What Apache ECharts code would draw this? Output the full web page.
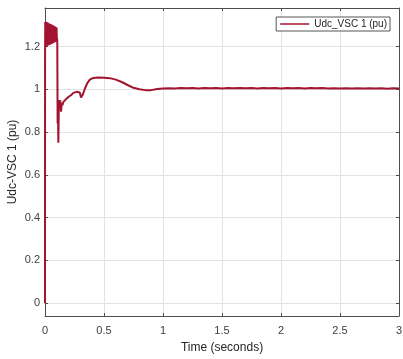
<!DOCTYPE html>
<html>
<head>
<meta charset="utf-8">
<script src="https://cdn.jsdelivr.net/npm/echarts@6/dist/echarts.min.js"></script>
<style>
  html, body { margin: 0; padding: 0; background: #fff; }
  #chart { width: 403px; height: 359px; }
</style>
</head>
<body>
<div id="chart"></div>
<script>
// DC-link voltage of converter VSC 1 during start-up (per unit)
const seriesName = 'Udc_VSC 1 (pu)';

// charging ripple band, 0 - 0.1 s
const bandTime = [
  0, 0.0005,
  0.002, 0.006, 0.010, 0.014, 0.018, 0.022, 0.026, 0.030, 0.034, 0.038,
  0.042, 0.046, 0.050, 0.054, 0.058, 0.062, 0.066, 0.070, 0.074, 0.078,
  0.082, 0.086, 0.090, 0.094, 0.098, 0.100
];
const bandUdc = [
  0, 1.12,
  1.315, 1.200, 1.316, 1.202, 1.313, 1.205, 1.311, 1.206, 1.308, 1.208,
  1.306, 1.210, 1.304, 1.212, 1.302, 1.214, 1.299, 1.216, 1.297, 1.219,
  1.294, 1.221, 1.291, 1.224, 1.289, 1.240
];

// transient after the converter is deblocked, 0.1 - 1 s
const transientTime = [
  0.104, 0.107, 0.110, 0.113, 0.118, 0.124, 0.130, 0.136, 0.142, 0.148,
  0.155, 0.162, 0.170, 0.180, 0.190, 0.200, 0.210, 0.220, 0.230, 0.240,
  0.255, 0.270, 0.283, 0.295, 0.305, 0.312, 0.320, 0.340, 0.360, 0.380,
  0.410, 0.450, 0.500, 0.550, 0.600, 0.650, 0.700, 0.750, 0.800, 0.850,
  0.900, 0.950
];
const transientUdc = [
  1.230, 0.840, 0.930, 0.750, 0.950, 0.905, 0.948, 0.895, 0.935, 0.925,
  0.940, 0.945, 0.940, 0.955, 0.952, 0.965, 0.960, 0.972, 0.970, 0.983,
  0.982, 0.988, 0.992, 0.985, 0.962, 0.958, 0.975, 1.006, 1.030, 1.045,
  1.053, 1.055, 1.054, 1.052, 1.045, 1.034, 1.020, 1.007, 1.000, 0.996,
  0.996, 1.001
];

// steady state, 1 - 3 s
const steadyTime = [
  1.00, 1.05, 1.10, 1.15, 1.20, 1.25, 1.30, 1.35, 1.40, 1.45,
  1.50, 1.55, 1.60, 1.65, 1.70, 1.75, 1.80, 1.85, 1.90, 1.95,
  2.00, 2.05, 2.10, 2.15, 2.20, 2.25, 2.30, 2.35, 2.40, 2.45,
  2.50, 2.55, 2.60, 2.65, 2.70, 2.75, 2.80, 2.85, 2.90, 2.95, 3.00
];
const steadyUdc = [
  1.004, 1.005, 1.004, 1.006, 1.005, 1.006, 1.004, 1.006, 1.005, 1.006,
  1.004, 1.006, 1.005, 1.006, 1.005, 1.006, 1.004, 1.006, 1.005, 1.006,
  1.004, 1.006, 1.005, 1.006, 1.004, 1.006, 1.005, 1.006, 1.004, 1.005,
  1.004, 1.005, 1.004, 1.005, 1.004, 1.005, 1.004, 1.005, 1.003, 1.005, 1.004
];

const xTicks = { min: 0, max: 3, step: 0.5 };
const yRange = { min: -0.06, max: 1.38, step: 0.2 };

const lineColor = '#A2142F';
const frameColor = '#4d4d4d';
const labelColor = '#404040';
const gridColor = '#e3e3e3';
const fontFamily = '"Liberation Sans", Arial, sans-serif';

const timeSec = bandTime.concat(transientTime, steadyTime);
const udcPu = bandUdc.concat(transientUdc, steadyUdc);
const points = timeSec.map((t, i) => [t, udcPu[i]]);

const chart = echarts.init(document.getElementById('chart'), null, { renderer: 'canvas' });

const frameAxis = {
  axisLine: { show: true, onZero: false, lineStyle: { color: frameColor, width: 1 } },
  axisTick: { show: true, inside: true, length: 3, lineStyle: { color: frameColor } },
  axisLabel: { show: false },
  splitLine: { show: false }
};

chart.setOption({
  animation: false,
  backgroundColor: '#ffffff',
  grid: {
    left: 45, right: 4, top: 8, bottom: 43,
    containLabel: false, outerBoundsMode: 'none', show: false
  },
  legend: {
    data: [{ name: seriesName, icon: 'rect' }],
    right: 13,
    top: 17,
    orient: 'vertical',
    itemWidth: 29,
    itemHeight: 1.5,
    itemGap: 0,
    padding: [2, 3, 2, 4],
    borderColor: '#555555',
    borderWidth: 1,
    backgroundColor: '#ffffff',
    textStyle: { fontFamily, fontSize: 10, color: '#262626' }
  },
  xAxis: [
    {
      type: 'value',
      min: xTicks.min,
      max: xTicks.max,
      interval: xTicks.step,
      name: 'Time (seconds)',
      nameLocation: 'middle',
      nameGap: 26,
      nameMoveOverlap: false,
      nameTextStyle: { fontFamily, fontSize: 12, color: '#262626' },
      axisLine: { show: true, onZero: false, lineStyle: { color: frameColor, width: 1 } },
      axisTick: { show: true, inside: true, length: 3, lineStyle: { color: frameColor } },
      axisLabel: { fontFamily, fontSize: 11, color: labelColor, margin: 9 },
      splitLine: { show: true, lineStyle: { color: gridColor, width: 1 } }
    },
    Object.assign({ type: 'value', position: 'top', min: xTicks.min, max: xTicks.max, interval: xTicks.step }, frameAxis)
  ],
  yAxis: [
    {
      type: 'value',
      min: yRange.min,
      max: yRange.max,
      minInterval: yRange.step,
      maxInterval: yRange.step,
      name: 'Udc-VSC 1 (pu)',
      nameLocation: 'middle',
      nameGap: 26,
      nameMoveOverlap: false,
      nameTextStyle: { fontFamily, fontSize: 12, color: '#262626' },
      axisLine: { show: true, onZero: false, lineStyle: { color: frameColor, width: 1 } },
      axisTick: { show: true, inside: true, length: 3, lineStyle: { color: frameColor } },
      axisLabel: {
        fontFamily, fontSize: 11, color: labelColor, margin: 5,
        showMinLabel: false, showMaxLabel: false
      },
      splitLine: { show: true, lineStyle: { color: gridColor, width: 1 } }
    },
    Object.assign({
      type: 'value', position: 'right', min: yRange.min, max: yRange.max,
      minInterval: yRange.step, maxInterval: yRange.step
    }, frameAxis)
  ],
  series: [
    {
      name: seriesName,
      type: 'line',
      data: points,
      showSymbol: false,
      symbol: 'none',
      color: lineColor,
      lineStyle: { color: lineColor, width: 2 },
      z: 3
    }
  ]
});
</script>
</body>
</html>
